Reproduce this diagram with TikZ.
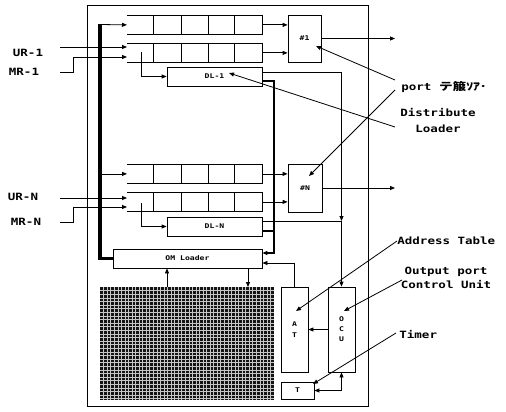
\documentclass[tikz,border=0pt]{standalone}
\usepackage{fontspec}
\newfontfamily\lblfont[FakeStretch=1.25]{DejaVu Sans Mono}
\newfontfamily\cjkfont[FakeStretch=1.3]{Noto Sans CJK JP}
\usetikzlibrary{arrows.meta}
\newcommand\drawqueue[1]{%
  \draw (#1.north west) -- (#1.north east) -- (#1.south east) -- (#1.south west);
  \foreach \dx in {26,54,81,107}{\draw ([xshift=\dx pt]#1.north west) -- ([xshift=\dx pt]#1.south west);}}
\begin{document}
\begin{tikzpicture}[x=1pt,y=-1pt,
  >={Triangle[length=5pt,width=4pt]},
  line width=0.8pt,
  lbl/.style={font=\lblfont\bfseries\fontsize{10}{12}\selectfont, inner sep=0},
  small/.style={font=\lblfont\bfseries\fontsize{6.5}{10}\selectfont},
  box/.style={draw, inner sep=0},
  queue/.style={inner sep=0, minimum width=135pt, minimum height=19pt, anchor=north west},
  bus/.style={line width=3.5pt},
  thk/.style={line width=2.2pt},
  gridln/.style={gray!45, line width=0.45pt}]
\useasboundingbox (0,0) rectangle (506,412);
% frame
\node[box, minimum width=281pt, minimum height=401pt, anchor=north west] (frame) at (87,5) {};
% queues
\node[queue] (q1) at (127,15) {};
\node[queue] (q2) at (127,43) {};
\node[queue] (q3) at (127,164) {};
\node[queue] (q4) at (127,192) {};
\drawqueue{q1}\drawqueue{q2}\drawqueue{q3}\drawqueue{q4}
% boxes
\node[box, small, minimum width=33pt, minimum height=47pt] (h1) at (304.5,38.5) {\#1};
\node[box, small, minimum width=34pt, minimum height=48pt] (hN) at (305,188) {\#N};
\node[box, small, minimum width=95pt, minimum height=19pt] (dl1) at (214.5,76.5) {DL-1};
\node[box, small, minimum width=95pt, minimum height=19pt] (dlN) at (214.5,226.5) {DL-N};
\node[box, small, minimum width=149pt, minimum height=19pt] (om) at (187.5,258.5) {OM Loader};
\node[fill=black!92, minimum width=174pt, minimum height=113pt, inner sep=0] (mem) at (187,343.5) {};
\foreach \i in {1,...,48}{\draw[gridln] ({100+\i*3.55},287) -- ({100+\i*3.55},400);}
\foreach \j in {1,...,31}{\draw[gridln] (100,{287+\j*3.6}) -- (274,{287+\j*3.6});}
\node[box, small, align=center, minimum width=27pt, minimum height=85pt] (at) at (294.5,329.5) {A\\[1.5pt]T};
\node[box, small, align=center, minimum width=27pt, minimum height=85pt] (ocu) at (341.5,329.5) {O\\C\\U};
\node[box, small, minimum width=33pt, minimum height=17pt] (tm) at (297.5,390.5) {T};
% labels
\node[lbl] (ur1) at (28,53) {UR-1};
\node[lbl] (mr1) at (24,72) {MR-1};
\node[lbl] (urN) at (23,197) {UR-N};
\node[lbl] (mrN) at (26,222) {MR-N};
\node[lbl, anchor=west] (lport) at (401,87) {port {\cjkfont\fontsize{10.5}{12}\selectfont テ箙ｿｱ･}};
\node[lbl, align=center, font=\lblfont\bfseries\fontsize{10}{16}\selectfont] (ldl) at (438,121) {Distribute\\Loader};
\node[lbl, anchor=west] (lat) at (397,241) {Address Table};
\node[lbl, align=center, font=\lblfont\bfseries\fontsize{10}{14}\selectfont] (locu) at (446,278) {Output port\\Control Unit};
\node[lbl, anchor=west] (ltm) at (399,335) {Timer};
% bus
\coordinate (bt) at (100,24.5);
\coordinate (bb) at (100,258.5);
\draw[bus, line join=miter] (bt) -- (bb) -- (om.west);
\draw[->] (bt) -- (q1.west);
\draw[->] (bt |- q3.west) -- (q3.west);
% inputs
\coordinate (ur1s) at (60,47);
\draw[->] (ur1s) -- (ur1s -| q2.west);
\coordinate (mr1s) at (60,72);
\coordinate (mr1k) at (73,57);
\draw[->] (mr1s) -| (mr1k) -- (mr1k -| q2.west);
\coordinate (urNs) at (60,198);
\draw[->] (urNs) -- (urNs -| q4.west);
\coordinate (mrNs) at (60,222);
\coordinate (mrNk) at (73,207);
\draw[->] (mrNs) -| (mrNk) -- (mrNk -| q4.west);
% feeds to DL
\coordinate (f1) at (141,52);
\draw[->] (f1) |- (dl1.west);
\coordinate (fN) at (141,203);
\draw[->] (fN) |- (dlN.west);
% queues to port boxes
\draw[->] (q1.east) -- (q1.east -| h1.west);
\draw[->] (q2.east) -- (q2.east -| h1.west);
\draw[->] (q3.east) -- (q3.east -| hN.west);
\draw[->] (q4.east) -- (q4.east -| hN.west);
% outputs
\coordinate (o1) at (395,38.5);
\draw[->] (h1.east) -- (o1);
\coordinate (oN) at (395,188);
\draw[->] (hN.east) -- (oN);
% DL to OCU
\coordinate (dl1a) at ([yshift=4.5pt]dl1.east);
\coordinate (jn) at (341.5,221);
\draw[->] (dl1a) -| (jn);
\coordinate (dlNa) at ([yshift=5.5pt]dlN.east);
\draw (dlNa) -- (jn);
\draw[->] (jn) -- (ocu.north);
% DL to OM loader (thick)
\coordinate (dl1b) at ([yshift=-4.5pt]dl1.east);
\coordinate (tb) at (274,253);
\draw[thk, line join=miter, ->] (dl1b) -| (tb) -- (tb -| om.east);
\coordinate (dlNb) at ([yshift=-4.5pt]dlN.east);
\draw[thk] (dlNb) -- (dlNb -| tb);
% AT to OM loader
\coordinate (ak) at (294.5,263);
\draw[->] (at.north) -- (ak) -- (ak -| om.east);
% OM loader <-> memory
\coordinate (u1) at (167,287);
\draw[->] (u1) -- (u1 |- om.south);
\coordinate (d1) at (248,287);
\draw[->] (d1 |- om.south) -- (d1);
% OCU, AT, T
\draw[->] (ocu.west) -- (at.east);
\draw[<->] (tm.east) -| (ocu.south);
% pointers
\coordinate (p1s) at (395,80); \coordinate (p1e) at (316,46);
\draw[->] (p1s) -- (p1e);
\coordinate (p2s) at (395,90); \coordinate (p2e) at (309,176);
\draw[->] (p2s) -- (p2e);
\coordinate (ds) at (395,127); \coordinate (de) at (229,73);
\draw[->] (ds) -- (de);
\coordinate (as) at (397,241); \coordinate (ae) at (296,311);
\draw[->] (as) -- (ae);
\coordinate (cs) at (402,280); \coordinate (ce) at (344,311);
\draw[->] (cs) -- (ce);
\coordinate (ts) at (396,333); \coordinate (te) at (313,384);
\draw[->] (ts) -- (te);
\end{tikzpicture}
\end{document}
